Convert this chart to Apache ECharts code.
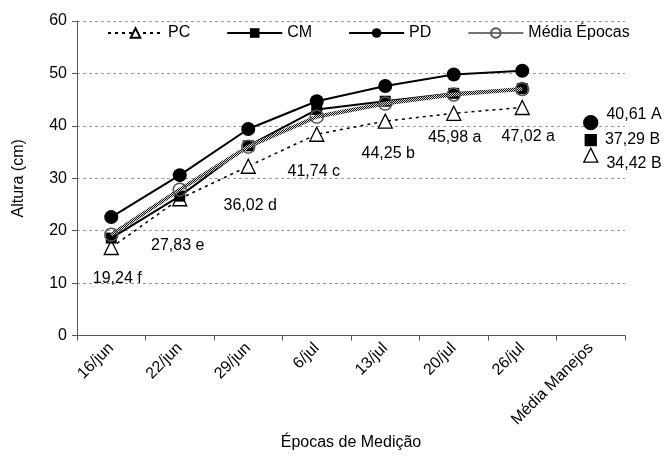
<!DOCTYPE html>
<html>
<head>
<meta charset="utf-8">
<script src="https://cdn.jsdelivr.net/npm/echarts@6/dist/echarts.min.js"></script>
<style>
html,body{margin:0;padding:0;background:#fff;}
#chart{width:667px;height:456px;}
</style>
</head>
<body>
<div id="chart"></div>
<script>
// ---- data ----
const categories = ['16/jun', '22/jun', '29/jun', '6/jul', '13/jul', '20/jul', '26/jul', 'Média Manejos'];
const seriesNames = ['PC', 'CM', 'PD', 'Média Épocas'];
const pc = [16.8, 26.1, 32.3, 38.4, 40.9, 42.4, 43.5];
const cm = [18.6, 26.6, 36.2, 43.1, 44.7, 46.2, 47.1];
const pd = [22.6, 30.6, 39.4, 44.7, 47.6, 49.8, 50.5];
const mediaEpocas = [19.24, 27.83, 36.02, 41.74, 44.25, 45.98, 47.02];
const letrasEpocas = ['f', 'e', 'd', 'c', 'b', 'a', 'a'];
const mediaManejos = [34.42, 37.29, 40.61]; // PC, CM, PD
const letrasManejos = ['B', 'B', 'A'];
const yTicks = { min: 0, max: 60, interval: 10 };

// ---- styling helpers ----
const FONT = 'Liberation Sans, Arial, sans-serif';
const FS = 16;
const labelOffsets = [[6, 44], [-2, 56], [2, 59], [-3, 55], [3, 50], [1, 43], [6, 48]];
const manejoOffsets = [8, 0, -8];
const fmt = v => v.toFixed(2).replace('.', ',');

// checker pattern for "Média Épocas" line
const pat = document.createElement('canvas');
pat.width = 2; pat.height = 2;
const pctx = pat.getContext('2d');
pctx.fillStyle = '#d8d8d8'; pctx.fillRect(0, 0, 2, 2);
pctx.fillStyle = '#111'; pctx.fillRect(0, 0, 1, 1); pctx.fillRect(1, 1, 1, 1);
const checker = { image: pat, repeat: 'repeat' };

const chart = echarts.init(document.getElementById('chart'), null, { renderer: 'canvas' });

const manejoSymbols = ['triangle', 'rect', 'circle'];
const manejoSizes = [14, 11, 14];
const manejoFill = ['#fff', '#000', '#000'];

const manejoSeries = mediaManejos.map((v, i) => ({
  name: 'manejo-' + seriesNames[i],
  type: 'scatter',
  data: [[categories[7], v]],
  symbol: manejoSymbols[i],
  symbolSize: manejoSizes[i],
  itemStyle: { color: manejoFill[i], borderColor: '#000', borderWidth: 1.3, opacity: 1 },
  label: {
    show: true, position: 'right', distance: 8,
    offset: [0, manejoOffsets[i]],
    formatter: () => fmt(v) + ' ' + letrasManejos[i],
    fontFamily: FONT, fontSize: FS, color: '#000'
  },
  z: 5
}));

chart.setOption({
  animation: false,
  backgroundColor: '#fff',
  textStyle: { fontFamily: FONT },
  grid: { left: 77, right: 42, top: 21, bottom: 109 },
  legend: {
    data: seriesNames,
    left: 102, top: 20,
    itemWidth: 55, itemHeight: 12, itemGap: 36,
    textStyle: { fontFamily: FONT, fontSize: FS, color: '#000' }
  },
  xAxis: {
    type: 'category',
    data: categories,
    boundaryGap: true,
    name: 'Épocas de Medição',
    nameLocation: 'middle',
    nameGap: 88,
    nameTextStyle: { fontFamily: FONT, fontSize: FS, color: '#000' },
    axisLine: { lineStyle: { color: '#555', width: 1 } },
    axisTick: { show: true, length: 5, lineStyle: { color: '#555' } },
    axisLabel: { rotate: 45, margin: 10, fontFamily: FONT, fontSize: FS, color: '#000', interval: 0 },
    splitLine: { show: false }
  },
  yAxis: {
    type: 'value',
    min: yTicks.min, max: yTicks.max, interval: yTicks.interval,
    name: 'Altura (cm)',
    nameLocation: 'middle',
    nameGap: 50,
    nameTextStyle: { fontFamily: FONT, fontSize: FS, color: '#000' },
    axisLine: { show: true, lineStyle: { color: '#555', width: 1 } },
    axisTick: { show: true, length: 5, lineStyle: { color: '#555' } },
    axisLabel: { margin: 10, fontFamily: FONT, fontSize: FS, color: '#000' },
    splitLine: {
      show: true,
      lineStyle: { color: '#999', type: [3, 3], width: 1 }
    }
  },
  series: [
    {
      name: 'PC', type: 'line', data: pc,
      symbol: 'triangle', symbolSize: 14,
      lineStyle: { color: '#000', width: 1.5, type: [3, 4] },
      itemStyle: { color: '#fff', borderColor: '#000', borderWidth: 1.3 },
      z: 2
    },
    {
      name: 'CM', type: 'line', data: cm,
      symbol: 'rect', symbolSize: 11,
      lineStyle: { color: '#000', width: 2 },
      itemStyle: { color: '#000', borderColor: '#000', borderWidth: 0 },
      z: 3
    },
    {
      name: 'PD', type: 'line', data: pd,
      symbol: 'circle', symbolSize: 14,
      lineStyle: { color: '#000', width: 2 },
      itemStyle: { color: '#000', borderColor: '#000', borderWidth: 0 },
      z: 4
    },
    {
      name: 'Média Épocas', type: 'line',
      data: mediaEpocas.map((v, i) => ({
        value: v,
        label: { offset: labelOffsets[i] }
      })),
      symbol: 'circle', symbolSize: 13,
      lineStyle: { color: checker, width: 4 },
      itemStyle: { color: 'rgba(0,0,0,0)', borderColor: '#555', borderWidth: 1.5 },
      label: {
        show: true, position: 'inside',
        formatter: p => fmt(mediaEpocas[p.dataIndex]) + ' ' + letrasEpocas[p.dataIndex],
        fontFamily: FONT, fontSize: FS, color: '#000'
      },
      z: 5
    },
    ...manejoSeries
  ]
});
</script>
</body>
</html>
